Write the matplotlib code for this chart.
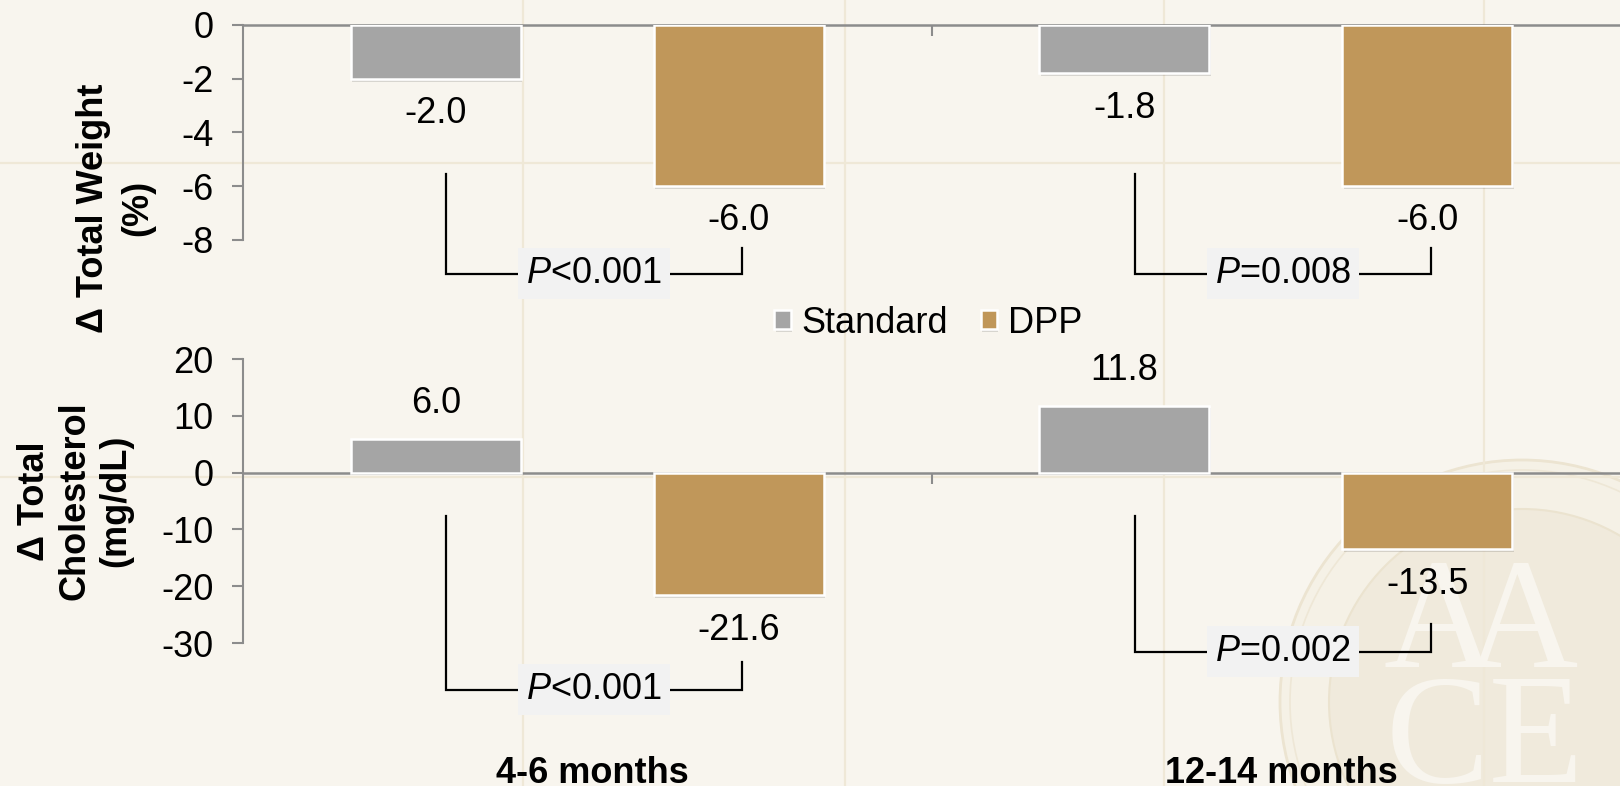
import matplotlib
matplotlib.use("Agg")
import matplotlib.pyplot as plt
import matplotlib.patheffects as pe
from matplotlib.patches import Circle
import numpy as np

plt.rcParams['font.family'] = ['Liberation Sans', 'DejaVu Sans']
plt.rcParams['mathtext.fontset'] = 'custom'
plt.rcParams['mathtext.rm'] = 'Liberation Sans'
plt.rcParams['mathtext.it'] = 'Liberation Sans:italic'

# ---- data ----
periods = ["4-6 months", "12-14 months"]
groups = ["Standard", "DPP"]
weight_standard = [-2.0, -1.8]
weight_dpp = [-6.0, -6.0]
chol_standard = [6.0, 11.8]
chol_dpp = [-21.6, -13.5]
weight_pvals = ["<0.001", "=0.008"]
chol_pvals = ["<0.001", "=0.002"]
weight_ticks = [0, -2, -4, -6, -8]
chol_ticks = [20, 10, 0, -10, -20, -30]

# ---- style ----
BG = "#f8f5ee"
GREY = "#a5a5a5"
GOLD = "#c0975a"
AXIS = "#8c8c8c"
FS = 26
BAR_W = 0.247
OFF = 0.22

fig = plt.figure(figsize=(16.2, 7.86), dpi=100)
fig.patch.set_facecolor(BG)

# decorative backdrop: faint page grid and seal
bg = fig.add_axes([0, 0, 1, 1], zorder=-5)
bg.set_xlim(0, 1620)
bg.set_ylim(786, 0)
bg.axis("off")
for gx in [523, 845, 1164, 1484]:
    bg.axvline(gx, color="#efe8d7", lw=1.6)
for gy in [163, 477]:
    bg.axhline(gy, color="#efe8d7", lw=1.6)
bg.add_patch(Circle((1522, 702), 242, facecolor="#f5f1e6", edgecolor="#ece4d1", lw=2))
bg.add_patch(Circle((1522, 702), 232, facecolor="none", edgecolor="#eee7d6", lw=1.2))
bg.add_patch(Circle((1522, 702), 193, facecolor="#f0eadc", edgecolor="#ebe3cf", lw=1.5))
for sx in [1440, 1522]:
    bg.text(sx, 667, "A", fontsize=112, family="Liberation Serif", color="#f8f5ee",
            ha="center", va="baseline")
bg.text(1485, 782, "CE", fontsize=112, family="Liberation Serif", color="#f8f5ee",
        ha="center", va="baseline")

ax_w = fig.add_axes([0.15, 0.6947, 0.85, 0.2735])
ax_c = fig.add_axes([0.15, 0.1819, 0.85, 0.3613])

x = np.arange(len(periods))
shadow = [pe.SimplePatchShadow(offset=(1.0, -2.0), shadow_rgbFace="#000000", alpha=0.13), pe.Normal()]


def style_axis(ax, ticks, lim):
    ax.patch.set_alpha(0)
    ax.set_xlim(-0.5, 1.5)
    ax.set_ylim(*lim)
    for s in ["top", "right"]:
        ax.spines[s].set_visible(False)
    ax.spines["left"].set_color(AXIS)
    ax.spines["left"].set_linewidth(1.5)
    ax.spines["bottom"].set_position(("data", 0))
    ax.spines["bottom"].set_color(AXIS)
    ax.spines["bottom"].set_linewidth(1.8)
    ax.set_yticks(ticks)
    ax.set_yticklabels([str(t) for t in ticks])
    ax.set_xticks([0.5])
    ax.set_xticklabels([""])
    ax.tick_params(axis="y", direction="out", length=8, width=1.5, color=AXIS,
                   labelsize=FS, pad=13)
    ax.tick_params(axis="x", direction="out", length=8, width=1.5, color=AXIS)


def draw_panel(ax, std, dpp, pvals, brackets):
    b1 = ax.bar(x - OFF, std, BAR_W, color=GREY, edgecolor="white", linewidth=1.8,
                label=groups[0], zorder=3)
    b2 = ax.bar(x + OFF, dpp, BAR_W, color=GOLD, edgecolor="white", linewidth=1.8,
                label=groups[1], zorder=3)
    for bars in (b1, b2):
        for r in bars:
            r.set_path_effects(shadow)
    for xs, vals in ((x - OFF, std), (x + OFF, dpp)):
        for xi, v in zip(xs, vals):
            dy = 25 if v > 0 else -25
            ax.annotate(f"{v:.1f}", xy=(xi, v), xytext=(0, dy), textcoords="offset points",
                        ha="center", va="center", fontsize=FS, annotation_clip=False)
    for xi, p, (ltop, bot, rtop) in zip(x, pvals, brackets):
        xl, xr = xi - 0.205, xi + 0.225
        ax.plot([xl, xl, xr, xr], [ltop, bot, bot, rtop], color="black", lw=1.6,
                clip_on=False, zorder=2, solid_joinstyle="miter")
        ax.text((xl + xr) / 2, bot, f"$P${p}", ha="center", va="center", fontsize=FS,
                zorder=4, bbox=dict(boxstyle="square,pad=0.22", facecolor="#f2f2f2",
                                    edgecolor="none"))
    return b1, b2


style_axis(ax_w, weight_ticks, (-8, 0))
style_axis(ax_c, chol_ticks, (-30, 20))

# bracket geometry: (left top, bottom, right top) per period
w_brackets = [(-5.55, -9.25, -8.3), (-5.55, -9.25, -8.3)]
c_brackets = [(-7.6, -38.2, -33.3), (-7.6, -31.5, -26.6)]

hb = draw_panel(ax_w, weight_standard, weight_dpp, weight_pvals, w_brackets)
draw_panel(ax_c, chol_standard, chol_dpp, chol_pvals, c_brackets)

for xi, lab in zip(x, periods):
    ax_c.annotate(lab, xy=(xi + 0.008, -0.493), xycoords=("data", "axes fraction"),
                  ha="center", va="baseline", fontsize=FS, fontweight="bold",
                  annotation_clip=False)

fig.text(116 / 1620, 1 - 208 / 786, "\u0394 Total Weight\n(%)", rotation=90,
         ha="center", va="center", fontsize=FS, fontweight="bold", linespacing=1.35,
         multialignment="center")
fig.text(75 / 1620, 1 - 501 / 786, "\u0394 Total\nCholesterol\n(mg/dL)", rotation=90,
         ha="center", va="center", fontsize=FS, fontweight="bold", linespacing=1.2,
         multialignment="center")

fig.legend(handles=list(hb), labels=groups, loc="center", bbox_to_anchor=(0.573, 0.589),
           ncol=2, frameon=False, fontsize=FS, handlelength=0.45, handleheight=0.45,
           handletextpad=0.3, columnspacing=0.9, borderpad=0.1)

fig.savefig("out.png", dpi=100, facecolor=BG)
